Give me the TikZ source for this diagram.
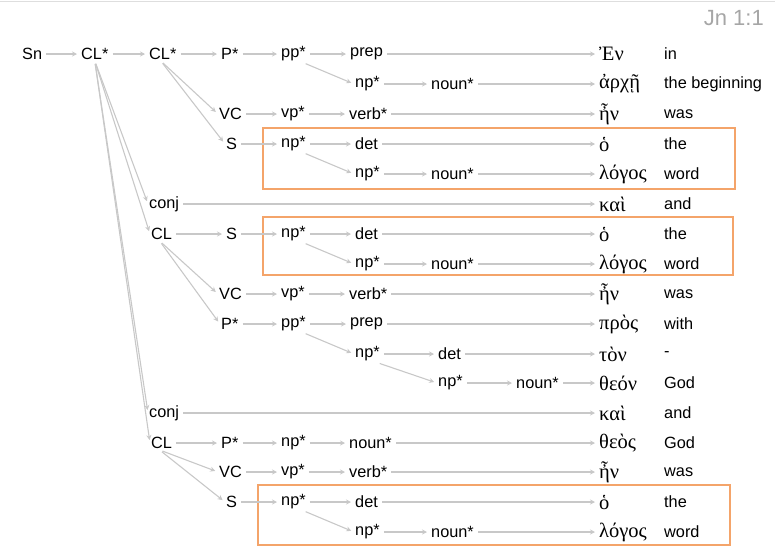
\documentclass[tikz,border=0pt]{standalone}
\usepackage{fontspec}
\setmainfont{Liberation Sans}
\newfontfamily\greekfont{Liberation Serif}
\usetikzlibrary{arrows.meta}
\definecolor{edgegray}{HTML}{C8C8C8}
\definecolor{boxorange}{HTML}{F4A46A}
\tikzset{
  lbl/.style={anchor=west,inner sep=1pt,font=\fontsize{16.3}{18}\selectfont},
  grk/.style={anchor=west,inner sep=1pt,font=\greekfont\fontsize{20.5}{22}\selectfont},
  edge/.style={draw=edgegray,line width=1.1pt,shorten >=3pt,shorten <=3pt,-{Stealth[length=5pt,width=5pt]}},
  hilite/.style={draw=boxorange,line width=2pt}
}
\begin{document}
\begin{tikzpicture}[x=1pt,y=-1pt]
\useasboundingbox (0,0) rectangle (775,547);
\draw[edgegray!60,line width=1pt] (0,1) -- (775,1);
\node[lbl,anchor=east,text=gray!70,font=\fontsize{22}{24}\selectfont] (ref) at (765,18) {Jn 1:1};
% highlight boxes
\draw[hilite] (263,128) rectangle (735,189);
\draw[hilite] (263,217) rectangle (733,275);
\draw[hilite] (258,485) rectangle (730,545);
% tree labels
\node[lbl] (sn) at (21,54) {Sn};
\node[lbl] (cla) at (80,54) {CL*};
\node[lbl] (clb) at (148,54) {CL*};
\node[lbl] (pa) at (220,54) {P*};
\node[lbl] (ppa) at (280,54) {pp*};
\node[lbl] (prepa) at (349,54) {prep};
\node[lbl] (npa) at (354,84) {np*};
\node[lbl] (nouna) at (430,84) {noun*};
\node[lbl] (vca) at (218,114) {VC};
\node[lbl] (vpa) at (280,114) {vp*};
\node[lbl] (verba) at (348,114) {verb*};
\node[lbl] (sa) at (225,144) {S};
\node[lbl] (npb) at (280,144) {np*};
\node[lbl] (deta) at (354,144) {det};
\node[lbl] (npc) at (354,174) {np*};
\node[lbl] (nounb) at (430,174) {noun*};
\node[lbl] (conja) at (148,204) {conj};
\node[lbl] (clc) at (150,234) {CL};
\node[lbl] (sb) at (225,234) {S};
\node[lbl] (npd) at (280,234) {np*};
\node[lbl] (detb) at (354,234) {det};
\node[lbl] (npe) at (354,264) {np*};
\node[lbl] (nounc) at (430,264) {noun*};
\node[lbl] (vcb) at (218,294) {VC};
\node[lbl] (vpb) at (280,294) {vp*};
\node[lbl] (verbb) at (348,294) {verb*};
\node[lbl] (pb) at (220,324) {P*};
\node[lbl] (ppb) at (280,324) {pp*};
\node[lbl] (prepb) at (349,324) {prep};
\node[lbl] (npf) at (354,354) {np*};
\node[lbl] (detc) at (437,354) {det};
\node[lbl] (npg) at (437,383) {np*};
\node[lbl] (nound) at (515,383) {noun*};
\node[lbl] (conjb) at (148,413) {conj};
\node[lbl] (cld) at (150,443) {CL};
\node[lbl] (pc) at (220,443) {P*};
\node[lbl] (nph) at (280,443) {np*};
\node[lbl] (nune) at (348,443) {noun*};
\node[lbl] (vcc) at (218,472) {VC};
\node[lbl] (vpc) at (280,472) {vp*};
\node[lbl] (verbc) at (348,472) {verb*};
\node[lbl] (sc) at (225,502) {S};
\node[lbl] (npi) at (280,502) {np*};
\node[lbl] (detd) at (354,502) {det};
\node[lbl] (npj) at (354,532) {np*};
\node[lbl] (nounf) at (430,532) {noun*};
% words and glosses
\foreach \n/\y/\g/\e in {1/54/Ἐν/in, 2/84/ἀρχῇ/the beginning, 3/114/ἦν/was,
  4/144/ὁ/the, 5/174/λόγος/word, 6/204/καὶ/and, 7/234/ὁ/the, 8/264/λόγος/word,
  9/294/ἦν/was, 10/324/πρὸς/with, 11/354/τὸν/-, 12/383/θεόν/God, 13/413/καὶ/and,
  14/443/θεὸς/God, 15/472/ἦν/was, 16/502/ὁ/the, 17/532/λόγος/word}{
  \node[grk] (w\n) at (598,\y) {\g};
  \node[lbl] (e\n) at (663,\y) {\e};
}
% horizontal connectors
\foreach \a/\b in {sn/cla, cla/clb, clb/pa, pa/ppa, ppa/prepa, prepa/w1, npa/nouna, nouna/w2,
  vca/vpa, vpa/verba, verba/w3, sa/npb, npb/deta, deta/w4, npc/nounb, nounb/w5,
  conja/w6, clc/sb, sb/npd, npd/detb, detb/w7, npe/nounc, nounc/w8,
  vcb/vpb, vpb/verbb, verbb/w9, pb/ppb, ppb/prepb, prepb/w10, npf/detc, detc/w11,
  npg/nound, nound/w12, conjb/w13, cld/pc, pc/nph, nph/nune, nune/w14,
  vcc/vpc, vpc/verbc, verbc/w15, sc/npi, npi/detd, detd/w16, npj/nounf, nounf/w17}
  \draw[edge] (\a) -- (\b);
% diagonal connectors
\foreach \a/\b in {ppa/npa, npb/npc, npd/npe, ppb/npf, npf/npg, npi/npj}
  \draw[edge] ([xshift=-4pt]\a.south east) -- (\b.west);
\foreach \a/\b in {clb/vca, clb/sa, clc/vcb, clc/pb, cld/vcc, cld/sc}
  \draw[edge] ([xshift=-2pt]\a.south) -- (\b.west);
\foreach \b in {conja, clc, conjb, cld}
  \draw[edge] (cla.south) -- (\b.west);
\end{tikzpicture}
\end{document}
